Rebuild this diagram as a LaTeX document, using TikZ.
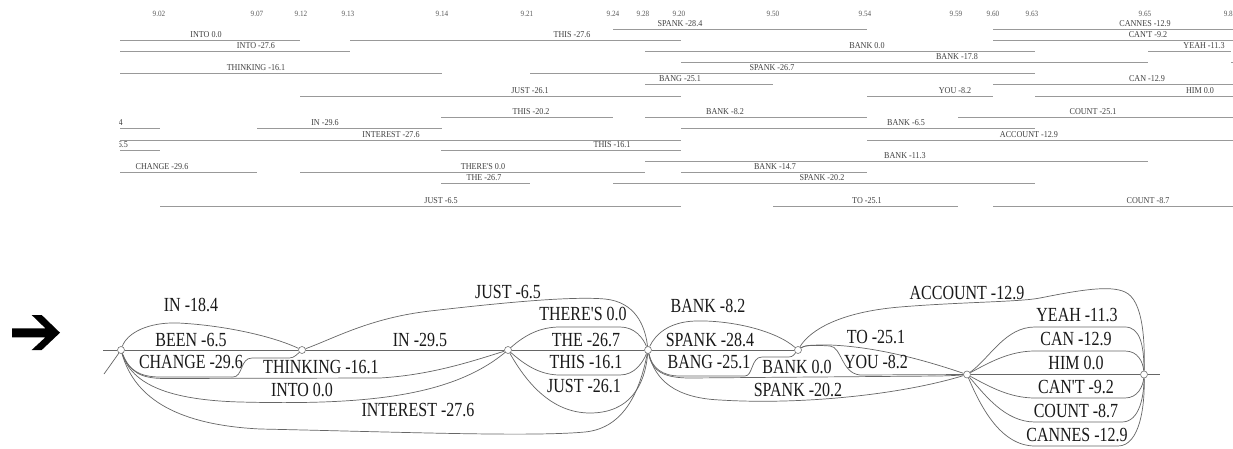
\documentclass[tikz,border=0pt]{standalone}
\usepackage{fontspec}
\newfontfamily\latfont[FakeStretch=0.8]{Liberation Serif}
\newfontfamily\segfont[FakeStretch=0.9]{Liberation Serif}
\begin{document}
\begin{tikzpicture}[x=1pt,y=-1pt,
  seg/.style={draw=black!40, line width=0.9pt},
  sl/.style={font=\segfont\fontsize{9}{10}\selectfont, inner sep=0pt, anchor=base, text=black!75},
  tl/.style={font=\segfont\fontsize{8}{9}\selectfont, inner sep=0pt, text=black!65},
  lat/.style={draw=black!60, line width=0.7pt},
  wl/.style={font=\latfont\fontsize{20}{22}\selectfont, inner sep=0pt, text=black!90},
  lnode/.style={circle, draw=black!55, fill=white, inner sep=0pt, minimum size=7pt, line width=0.6pt}]
\useasboundingbox (0,0) rectangle (1233,449);
\fill[white] (0,0) rectangle (1233,449);

% ---------- top panel ----------
\begin{scope}
\clip (119,0) rectangle (1233,215);
\foreach \t/\tx in {9.02/159, 9.07/257, 9.12/301, 9.13/348, 9.14/442, 9.21/527, 9.24/613, 9.28/643, 9.20/679, 9.50/773, 9.54/865, 9.59/956, 9.60/993, 9.63/1032, 9.65/1145}
  \node[tl] (t\tx) at (\tx,14) {\t};
\foreach \lab/\cx/\yy/\xa/\xb in {
 SPANK -28.4/680/29/613/867,
 CANNES -12.9/1145/29/993/1233,
 INTO 0.0/206/40/120/300,
 THIS -27.6/572/40/350/681,
 CAN'T -9.2/1148/40/993/1233,
 INTO -27.6/256/51/120/350,
 BANK 0.0/867/51/645/1035,
 YEAH -11.3/1204/51/1148/1231,
 BANK -17.8/957/62/681/1148,
 THINKING -16.1/256/73/120/442,
 SPANK -26.7/772/73/530/1035,
 BANG -25.1/680/84/645/773,
 CAN -12.9/1147/84/993/1233,
 JUST -26.1/530/96/300/681,
 YOU -8.2/955/96/867/993,
 HIM 0.0/1200/96/1035/1233,
 THIS -20.2/531/117/441/613,
 BANK -8.2/725/117/645/867,
 COUNT -25.1/1093/117/958/1233,
 IN -18.4/109/128/120/160,
 IN -29.6/325/128/257/442,
 BANK -6.5/906/128/681/1035,
 INTEREST -27.6/391/140/120/681,
 ACCOUNT -12.9/1029/140/867/1233,
 BEEN -6.5/110/150/120/160,
 THIS -16.1/612/150/441/681,
 BANK -11.3/905/161/645/1148,
 CHANGE -29.6/162/172/120/257,
 THERE'S 0.0/483/172/300/645,
 BANK -14.7/775/172/681/867,
 THE -26.7/484/183/441/530,
 SPANK -20.2/822/183/613/1035,
 JUST -6.5/441/206/160/681,
 TO -25.1/867/206/773/958,
 COUNT -8.7/1148/206/993/1233}
 {
  \draw[seg] (\xa,\yy) -- (\xb,\yy);
  \node[sl] (s\xa-\yy) at (\cx,\yy-2) {\lab};
 }
\draw[seg] (1231,62) -- (1240,62);
\end{scope}
\node[tl, anchor=east] (t1233) at (1233,14) {9.8};

% ---------- arrow ----------
\fill[black] (12,328.3) -- (45.4,328.3) -- (31.7,315) -- (41.7,315) -- (60,332.7)
  -- (41.7,350) -- (31.7,350) -- (45.4,337.3) -- (12,337.3) -- cycle;

% ---------- lattice nodes ----------
\node[lnode] (n0) at (121,350) {};
\node[lnode] (n1) at (302,350) {};
\node[lnode] (n2) at (508,350) {};
\node[lnode] (n3) at (648,350) {};
\node[lnode] (n4) at (798,350) {};
\node[lnode] (n5) at (967,374.5) {};
\node[lnode] (n6) at (1144,374.5) {};
\coordinate (l0) at (103,350);
\coordinate (t0) at (104,374);
\coordinate (l6) at (1160,374.5);

% ---------- edges ----------
\draw[lat] (l0) -- (n0);
\draw[lat] (n0) .. controls (114,360) .. (t0);
\draw[lat] (n6) -- (l6);
% n0 -> n1
\draw[lat] (n0) .. controls (127,333) and (148,322) .. (178,323) .. controls (220,325) and (270,335) .. (n1);
\draw[lat] (n0) -- (n1);
\draw[lat] (n0) .. controls (128,370) and (140,377) .. (160,377) -- (233,377) .. controls (243,377) and (240,358) .. (252,358) -- (285,358) .. controls (293,358) .. (n1);
% n0 -> n2
\draw[lat] (n0) .. controls (130,372) and (140,378.5) .. (165,378.5) -- (380,378) .. controls (430,375) and (470,362) .. (n2);
\draw[lat] (n0) .. controls (132,385) and (170,400) .. (240,402) .. controls (360,405) and (450,398) .. (n2);
% n0 -> n3
\draw[lat] (n0) .. controls (135,400) and (180,425) .. (260,429) .. controls (400,432) and (530,437) .. (585,432) .. controls (625,428) and (640,390) .. (n3);
% n1 -> n2, n1 -> n3
\draw[lat] (n1) -- (n2);
\draw[lat] (n1) .. controls (335,338) and (370,318) .. (430,311) .. controls (500,303) and (570,296) .. (605,299) .. controls (635,302) and (645,325) .. (n3);
% n2 -> n3
\draw[lat] (n2) .. controls (525,335) and (540,327) .. (560,327) -- (620,327) .. controls (635,327) and (643,338) .. (n3);
\draw[lat] (n2) -- (n3);
\draw[lat] (n2) .. controls (525,365) and (540,375) .. (560,375) -- (620,375) .. controls (635,375) and (643,362) .. (n3);
\draw[lat] (n2) .. controls (525,380) and (550,413) .. (590,413) .. controls (630,413) and (645,385) .. (n3);
% n3 -> n4
\draw[lat] (n3) .. controls (655,335) and (668,322) .. (695,321) .. controls (730,320) and (775,330) .. (n4);
\draw[lat] (n3) -- (n4);
\draw[lat] (n3) .. controls (652,368) and (662,376) .. (680,376) -- (745,376) .. controls (753,376) and (751,357) .. (762,357) -- (785,357) .. controls (792,357) .. (n4);
% n3 -> n5
\draw[lat] (n3) .. controls (652,372) and (665,378) .. (690,378) -- (940,376) .. controls (955,375.5) .. (n5);
\draw[lat] (n3) .. controls (655,380) and (675,398) .. (720,400) .. controls (800,405) and (900,395) .. (n5);
% n4 -> n5
\draw[lat] (n4) .. controls (805,345) and (812,345) .. (830,345) .. controls (880,347) and (930,362) .. (n5);
\draw[lat] (n4) .. controls (805,345) and (815,345) .. (830,346) .. controls (842,347) and (841,373) .. (860,375) -- (n5);
% n4 -> n6
\draw[lat] (n4) .. controls (810,330) and (840,312) .. (900,307) .. controls (960,302) and (1020,302) .. (1040,298) .. controls (1080,290) and (1110,285) .. (1125,292) .. controls (1143,300) and (1145,340) .. (n6);
% n5 -> n6
\draw[lat] (n5) .. controls (990,358) and (1005,327) .. (1035,327) -- (1125,327) .. controls (1140,327) and (1144,345) .. (n6);
\draw[lat] (n5) .. controls (990,362) and (1010,351) .. (1035,351) -- (1125,351) .. controls (1138,351) and (1143,362) .. (n6);
\draw[lat] (n5) -- (n6);
\draw[lat] (n5) .. controls (990,387) and (1010,398) .. (1035,398) -- (1125,398) .. controls (1138,398) and (1143,386) .. (n6);
\draw[lat] (n5) .. controls (985,395) and (1005,422) .. (1035,422) -- (1122,422) .. controls (1140,422) and (1144,395) .. (n6);
\draw[lat] (n5) .. controls (980,405) and (1000,446) .. (1035,446) -- (1118,446) .. controls (1140,446) and (1145,405) .. (n6);

% ---------- lattice labels ----------
\node[wl] (w1) at (191,305) {IN -18.4};
\node[wl] (w2) at (191,340) {BEEN -6.5};
\node[wl] (w3) at (191,362) {CHANGE -29.6};
\node[wl] (w4) at (321,367) {THINKING -16.1};
\node[wl] (w5) at (302,390) {INTO 0.0};
\node[wl] (w6) at (420,340) {IN -29.5};
\node[wl] (w7) at (418,410) {INTEREST -27.6};
\node[wl] (w8) at (508,292) {JUST -6.5};
\node[wl] (w9) at (583,314) {THERE'S 0.0};
\node[wl] (w10) at (586,340) {THE -26.7};
\node[wl] (w11) at (586,362) {THIS -16.1};
\node[wl] (w12) at (584,386) {JUST -26.1};
\node[wl] (w13) at (708,306) {BANK -8.2};
\node[wl] (w14) at (710,340) {SPANK -28.4};
\node[wl] (w15) at (709,362) {BANG -25.1};
\node[wl] (w16) at (797,367) {BANK 0.0};
\node[wl] (w17) at (798,390) {SPANK -20.2};
\node[wl] (w18) at (876,337) {TO -25.1};
\node[wl] (w19) at (876,362) {YOU -8.2};
\node[wl] (w20) at (967,293) {ACCOUNT -12.9};
\node[wl] (w21) at (1077,315) {YEAH -11.3};
\node[wl] (w22) at (1076,339) {CAN -12.9};
\node[wl] (w23) at (1076,363) {HIM 0.0};
\node[wl] (w24) at (1076,387) {CAN'T -9.2};
\node[wl] (w25) at (1076,411) {COUNT -8.7};
\node[wl] (w26) at (1077,435) {CANNES -12.9};
\end{tikzpicture}
\end{document}
